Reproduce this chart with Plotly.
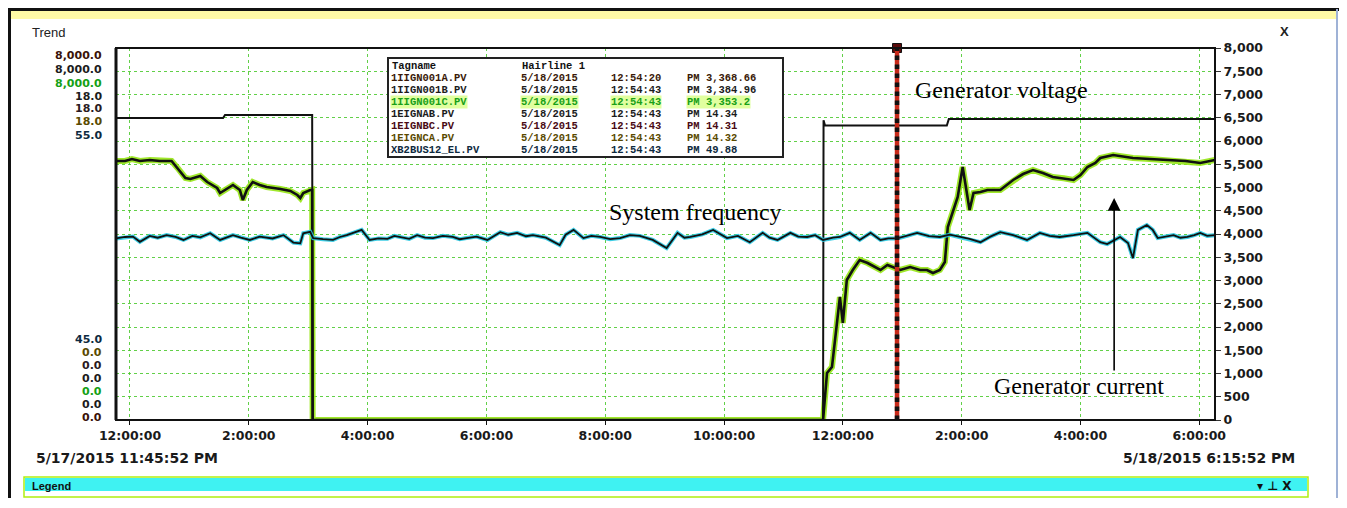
import plotly.graph_objects as go

# ---------------- data ----------------
# Generator current (A) - right axis 0..8000
curr_time = [
    "2015-05-17 23:45:52", "2015-05-17 23:55", "2015-05-18 00:02", "2015-05-18 00:10",
    "2015-05-18 00:20", "2015-05-18 00:30", "2015-05-18 00:42", "2015-05-18 00:48",
    "2015-05-18 00:56", "2015-05-18 01:01", "2015-05-18 01:11", "2015-05-18 01:18",
    "2015-05-18 01:28", "2015-05-18 01:31", "2015-05-18 01:38", "2015-05-18 01:44",
    "2015-05-18 01:51", "2015-05-18 01:54", "2015-05-18 01:58", "2015-05-18 02:04",
    "2015-05-18 02:11", "2015-05-18 02:18", "2015-05-18 02:32", "2015-05-18 02:42",
    "2015-05-18 02:49", "2015-05-18 02:52", "2015-05-18 02:55", "2015-05-18 03:02",
    "2015-05-18 03:04", "2015-05-18 03:04:30", "2015-05-18 11:40",
    "2015-05-18 11:44", "2015-05-18 11:49", "2015-05-18 11:54", "2015-05-18 11:57",
    "2015-05-18 12:00", "2015-05-18 12:04", "2015-05-18 12:10", "2015-05-18 12:17",
    "2015-05-18 12:25", "2015-05-18 12:33", "2015-05-18 12:38", "2015-05-18 12:45",
    "2015-05-18 12:51", "2015-05-18 12:58", "2015-05-18 13:08", "2015-05-18 13:18",
    "2015-05-18 13:25", "2015-05-18 13:31", "2015-05-18 13:38", "2015-05-18 13:43",
    "2015-05-18 13:46", "2015-05-18 13:51", "2015-05-18 13:56", "2015-05-18 14:01",
    "2015-05-18 14:05", "2015-05-18 14:08", "2015-05-18 14:12", "2015-05-18 14:19",
    "2015-05-18 14:26", "2015-05-18 14:39", "2015-05-18 14:52", "2015-05-18 15:02",
    "2015-05-18 15:12", "2015-05-18 15:22", "2015-05-18 15:32", "2015-05-18 15:43",
    "2015-05-18 15:53", "2015-05-18 16:00", "2015-05-18 16:07", "2015-05-18 16:15",
    "2015-05-18 16:20", "2015-05-18 16:33", "2015-05-18 16:45", "2015-05-18 16:53",
    "2015-05-18 17:10", "2015-05-18 17:28", "2015-05-18 17:46", "2015-05-18 18:01",
    "2015-05-18 18:15:52",
]
curr_amp = [
    5570, 5570, 5613, 5570, 5591, 5570, 5570, 5420,
    5205, 5183, 5248, 5118, 4989, 4882, 4968, 5054,
    4946, 4731, 4946, 5118, 5054, 5011, 4968, 4925,
    4839, 4774, 4882, 4946, 4946, 0, 0,
    1011, 1140, 2086, 2645, 2086, 3011, 3226, 3441,
    3376, 3290, 3226, 3333, 3290, 3226, 3290, 3226,
    3226, 3161, 3226, 3398, 4151, 4452, 4796, 5441,
    4946, 4516, 4882, 4903, 4946, 4946, 5161, 5290,
    5376, 5310, 5226, 5200, 5161, 5269, 5441, 5527,
    5634, 5699, 5656, 5634, 5613, 5591, 5570, 5527,
    5591,
]

# Generator voltage (kV) - pen scale 0..18
volt_time = [
    "2015-05-17 23:45:52", "2015-05-18 01:34", "2015-05-18 01:36", "2015-05-18 03:04",
    "2015-05-18 03:04:30", "2015-05-18 11:40", "2015-05-18 11:40:30", "2015-05-18 11:42",
    "2015-05-18 13:45", "2015-05-18 13:47", "2015-05-18 18:15:52",
]
volt_kv = [14.61, 14.61, 14.76, 14.76, 0.0, 0.0, 14.50, 14.25, 14.25, 14.56, 14.56]

# System frequency (Hz) - pen scale 45..55
freq_time = [
    "2015-05-17 23:45:52", "2015-05-17 23:55", "2015-05-18 00:03", "2015-05-18 00:10",
    "2015-05-18 00:20", "2015-05-18 00:28", "2015-05-18 00:37", "2015-05-18 00:46",
    "2015-05-18 00:54", "2015-05-18 01:03", "2015-05-18 01:11", "2015-05-18 01:21",
    "2015-05-18 01:31", "2015-05-18 01:44", "2015-05-18 01:52", "2015-05-18 02:01",
    "2015-05-18 02:11", "2015-05-18 02:24", "2015-05-18 02:35", "2015-05-18 02:45",
    "2015-05-18 02:52", "2015-05-18 02:55", "2015-05-18 03:02", "2015-05-18 03:05",
    "2015-05-18 03:15", "2015-05-18 03:25", "2015-05-18 03:32", "2015-05-18 03:39",
    "2015-05-18 03:54", "2015-05-18 04:02", "2015-05-18 04:11", "2015-05-18 04:20",
    "2015-05-18 04:27", "2015-05-18 04:33", "2015-05-18 04:42", "2015-05-18 04:50",
    "2015-05-18 04:58", "2015-05-18 05:06", "2015-05-18 05:16", "2015-05-18 05:26",
    "2015-05-18 05:33", "2015-05-18 05:40", "2015-05-18 05:50", "2015-05-18 06:01",
    "2015-05-18 06:14", "2015-05-18 06:22", "2015-05-18 06:31", "2015-05-18 06:40",
    "2015-05-18 06:47", "2015-05-18 07:00", "2015-05-18 07:14", "2015-05-18 07:20",
    "2015-05-18 07:28", "2015-05-18 07:38", "2015-05-18 07:46", "2015-05-18 07:55",
    "2015-05-18 08:05", "2015-05-18 08:15", "2015-05-18 08:25", "2015-05-18 08:35",
    "2015-05-18 08:48", "2015-05-18 09:02", "2015-05-18 09:13", "2015-05-18 09:20",
    "2015-05-18 09:26", "2015-05-18 09:38", "2015-05-18 09:49", "2015-05-18 10:03",
    "2015-05-18 10:14", "2015-05-18 10:26", "2015-05-18 10:39", "2015-05-18 10:46",
    "2015-05-18 10:54", "2015-05-18 11:07", "2015-05-18 11:15", "2015-05-18 11:24",
    "2015-05-18 11:32", "2015-05-18 11:40", "2015-05-18 11:50", "2015-05-18 11:57",
    "2015-05-18 12:07", "2015-05-18 12:17", "2015-05-18 12:28", "2015-05-18 12:38",
    "2015-05-18 12:46", "2015-05-18 12:55", "2015-05-18 13:05", "2015-05-18 13:15",
    "2015-05-18 13:27", "2015-05-18 13:38", "2015-05-18 13:48", "2015-05-18 13:58",
    "2015-05-18 14:08", "2015-05-18 14:19", "2015-05-18 14:29", "2015-05-18 14:39",
    "2015-05-18 14:52", "2015-05-18 15:06", "2015-05-18 15:19", "2015-05-18 15:29",
    "2015-05-18 15:39", "2015-05-18 15:53", "2015-05-18 16:07", "2015-05-18 16:20",
    "2015-05-18 16:27", "2015-05-18 16:40", "2015-05-18 16:48", "2015-05-18 16:53",
    "2015-05-18 16:58", "2015-05-18 17:07", "2015-05-18 17:13", "2015-05-18 17:18",
    "2015-05-18 17:26", "2015-05-18 17:34", "2015-05-18 17:41", "2015-05-18 17:48",
    "2015-05-18 17:55", "2015-05-18 18:01", "2015-05-18 18:08", "2015-05-18 18:15:52",
]
freq_hz = [
    49.88, 49.92, 49.93, 49.79, 49.95, 49.90, 49.97, 49.92,
    49.84, 49.95, 49.91, 50.02, 49.84, 49.97, 49.90, 49.84,
    49.93, 49.88, 49.97, 49.77, 49.75, 50.02, 50.06, 49.89,
    49.86, 49.84, 49.92, 49.97, 50.11, 49.84, 49.88, 49.87,
    49.95, 49.92, 49.87, 49.97, 49.90, 49.89, 49.95, 49.92,
    49.86, 49.89, 49.93, 49.84, 50.05, 49.98, 50.03, 49.94,
    49.97, 49.90, 49.70, 49.98, 50.11, 49.89, 49.95, 49.92,
    49.86, 49.89, 49.97, 49.95, 49.84, 49.62, 50.03, 49.90,
    49.92, 49.99, 50.11, 49.89, 49.95, 49.78, 50.03, 49.90,
    49.84, 50.03, 49.93, 49.92, 49.97, 49.84, 49.90, 49.92,
    50.03, 49.84, 50.03, 49.84, 49.88, 49.88, 49.95, 50.03,
    49.94, 49.92, 49.98, 49.92, 49.87, 49.78, 49.93, 50.05,
    49.97, 49.84, 50.03, 49.95, 49.92, 49.97, 50.03, 49.78,
    49.73, 49.92, 49.76, 49.35, 50.11, 50.24, 50.11, 49.89,
    49.93, 49.97, 49.90, 49.92, 49.97, 50.03, 49.95, 49.97,
]

hairline_time = "2015-05-18 12:54:43"
x_start = "2015-05-17 23:45:52"
x_end = "2015-05-18 18:15:52"

# pen scale labels on the left (max values, then min values)
pen_max_labels = ["8,000.0", "8,000.0", "8,000.0", "18.0", "18.0", "18.0", "55.0"]
pen_min_labels = ["45.0", "0.0", "0.0", "0.0", "0.0", "0.0", "0.0"]
pen_max_colors = ["#3a1208", "#1c1c1c", "#14a014", "#1c1c1c", "#2a1a22", "#5a4a00", "#0e2a40"]
pen_min_colors = ["#0e2a40", "#5a4a00", "#2a1a22", "#1c1c1c", "#14a014", "#1c1c1c", "#3a1208"]

# hairline value table
tbl_tags = ["1IIGN001A.PV", "1IIGN001B.PV", "1IIGN001C.PV", "1EIGNAB.PV",
            "1EIGNBC.PV", "1EIGNCA.PV", "XB2BUS12_EL.PV"]
tbl_dates = ["5/18/2015"] * 7
tbl_times = ["12:54:20", "12:54:43", "12:54:43", "12:54:43", "12:54:43", "12:54:43", "12:54:43"]
tbl_values = ["PM 3,368.66", "PM 3,384.96", "PM 3,353.2", "PM 14.34", "PM 14.31",
              "PM 14.32", "PM 49.88"]
tbl_colors = ["#3a1a08", "#1c1c1c", "#18a018", "#1c1c1c", "#4a0a14", "#5a4a00", "#0e2a40"]

# ---------------- layout helpers ----------------
# page pixel coordinates of the plot area (the page body has an 8px margin)
OFF = 8
L, R, T, B = 116, 1215, 48, 420
FIG_W, FIG_H = 1331, 490


def px(x):
    return (x - L) / (R - L)


def py(y):
    return (B - y) / (B - T)


TICKFONT = dict(family="DejaVu Sans", size=12.5, color="#1a1a1a", weight="bold")
GRID = "rgba(70,200,40,0.85)"

fig = go.Figure()

# current (thick, green/yellow halo)
fig.add_trace(go.Scatter(x=curr_time, y=curr_amp, mode="lines", yaxis="y",
                         line=dict(color="rgba(150,230,20,0.9)", width=6), hoverinfo="skip",
                         showlegend=False))
fig.add_trace(go.Scatter(x=curr_time, y=curr_amp, mode="lines", yaxis="y",
                         line=dict(color="#111111", width=2.6), name="Generator current",
                         showlegend=False))
# frequency (cyan halo)
fig.add_trace(go.Scatter(x=freq_time, y=freq_hz, mode="lines", yaxis="y3",
                         line=dict(color="rgba(40,200,225,0.9)", width=4), hoverinfo="skip",
                         showlegend=False))
fig.add_trace(go.Scatter(x=freq_time, y=freq_hz, mode="lines", yaxis="y3",
                         line=dict(color="#111111", width=1.8), name="System frequency",
                         showlegend=False))
# voltage
fig.add_trace(go.Scatter(x=volt_time, y=volt_kv, mode="lines", yaxis="y2",
                         line=dict(color="#111111", width=2), name="Generator voltage",
                         showlegend=False))
# hairline head marker
fig.add_trace(go.Scatter(x=[hairline_time], y=[8000], mode="markers", yaxis="y",
                         marker=dict(symbol="square", size=9, color="#5a0a0a",
                                     line=dict(color="#111", width=1)),
                         cliponaxis=False, showlegend=False, hoverinfo="skip"))

shapes = []
# hairline
shapes.append(dict(type="line", xref="x", yref="paper", x0=hairline_time, x1=hairline_time,
                   y0=0, y1=1, line=dict(color="#c82a1a", width=4.5)))
shapes.append(dict(type="line", xref="x", yref="paper", x0=hairline_time, x1=hairline_time,
                   y0=0, y1=1, line=dict(color="#111111", width=4.5, dash="dot")))
# plot frame
shapes.append(dict(type="rect", xref="paper", yref="paper", x0=0, x1=1, y0=0, y1=1,
                   line=dict(color="#111111", width=2)))
shapes.append(dict(type="line", xref="paper", yref="paper", x0=0, x1=0, y0=0, y1=1,
                   line=dict(color="#111111", width=3)))
# hairline table box
shapes.append(dict(type="rect", xref="paper", yref="paper", x0=px(388), x1=px(783),
                   y0=py(157), y1=py(58), fillcolor="white",
                   line=dict(color="#222222", width=2), layer="above"))
# window frame
shapes.append(dict(type="rect", xref="paper", yref="paper", x0=px(10), x1=px(1337),
                   y0=py(19), y1=py(9), fillcolor="rgba(255,240,0,0.35)", line=dict(width=0)))
shapes.append(dict(type="line", xref="paper", yref="paper", x0=px(8), x1=px(1339),
                   y0=py(9.5), y1=py(9.5), line=dict(color="#111111", width=3)))
shapes.append(dict(type="line", xref="paper", yref="paper", x0=px(9.5), x1=px(9.5),
                   y0=py(498), y1=py(9), line=dict(color="#111111", width=3)))
shapes.append(dict(type="line", xref="paper", yref="paper", x0=px(1337), x1=px(1337),
                   y0=py(498), y1=py(9), line=dict(color="#9fb2d6", width=2)))
# legend bar
shapes.append(dict(type="rect", xref="paper", yref="paper", x0=px(25), x1=px(1307),
                   y0=py(491), y1=py(478), fillcolor="#3ff2f2", line=dict(width=0)))
shapes.append(dict(type="rect", xref="paper", yref="paper", x0=px(24), x1=px(1308),
                   y0=py(497), y1=py(477), line=dict(color="#b0ee10", width=1.5)))

ann = []
# pen scale labels
max_y = [56, 70, 83, 96, 109, 121, 135]
min_y = [339, 352, 365, 378, 391, 404, 417]
for t, c, yy in zip(pen_max_labels, pen_max_colors, max_y):
    ann.append(dict(text=t, xref="paper", yref="paper", x=px(104), y=py(yy), xanchor="right",
                    yanchor="middle", showarrow=False,
                    font=dict(family="DejaVu Sans", size=11, color=c, weight="bold")))
for t, c, yy in zip(pen_min_labels, pen_min_colors, min_y):
    ann.append(dict(text=t, xref="paper", yref="paper", x=px(104), y=py(yy), xanchor="right",
                    yanchor="middle", showarrow=False,
                    font=dict(family="DejaVu Sans", size=11, color=c, weight="bold")))

# table
MONO = "Liberation Mono, Courier New, monospace"
TF = 10.5
ann.append(dict(text="Tagname", xref="paper", yref="paper", x=px(390), y=py(66),
                xanchor="left", yanchor="middle", showarrow=False,
                font=dict(family=MONO, size=TF, color="#111", weight="bold")))
ann.append(dict(text="Hairline 1", xref="paper", yref="paper", x=px(520), y=py(66),
                xanchor="left", yanchor="middle", showarrow=False,
                font=dict(family=MONO, size=TF, color="#111", weight="bold")))
row_y = [78, 90, 102, 114, 126, 138, 150]
for i in range(7):
    f = dict(family=MONO, size=TF, color=tbl_colors[i], weight="bold")
    for txt, xx in ((tbl_tags[i], 390), (tbl_dates[i], 520), (tbl_times[i], 610),
                    (tbl_values[i], 686)):
        ann.append(dict(text=txt, xref="paper", yref="paper", x=px(xx), y=py(row_y[i]),
                        xanchor="left", yanchor="middle", showarrow=False, font=f,
                        borderpad=0,
                        bgcolor="rgba(200,255,80,0.55)" if i == 2 else None))

# series captions
SERIF = dict(family="Liberation Serif, Times New Roman, serif", size=24, color="#000")
ann.append(dict(text="Generator voltage", x="2015-05-18 14:40", y=7097, xref="x", yref="y",
                showarrow=False, font=SERIF))
ann.append(dict(text="System frequency", x="2015-05-18 09:31", y=4473, xref="x", yref="y",
                showarrow=False, font=SERIF))
ann.append(dict(text="Generator current", x="2015-05-18 15:58", y=731, xref="x", yref="y",
                showarrow=False, font=SERIF))
ann.append(dict(text="", x="2015-05-18 16:34", y=4774, xref="x", yref="y",
                ax="2015-05-18 16:34", ay=1032, axref="x", ayref="y", showarrow=True,
                arrowhead=2, arrowsize=1.6, arrowwidth=1.6, arrowcolor="#000"))

# window texts
ann.append(dict(text="Trend", xref="paper", yref="paper", x=px(30), y=py(32), xanchor="left",
                yanchor="middle", showarrow=False,
                font=dict(family="Liberation Sans, Arial", size=13, color="#222")))
ann.append(dict(text="X", xref="paper", yref="paper", x=px(1284), y=py(31), xanchor="center",
                yanchor="middle", showarrow=False,
                font=dict(family="Liberation Sans, Arial", size=13, color="#222", weight="bold")))
ann.append(dict(text="5/17/2015 11:45:52 PM", xref="paper", yref="paper", x=px(34), y=py(458),
                xanchor="left", yanchor="middle", showarrow=False,
                font=dict(family="DejaVu Sans", size=14, color="#1a1a1a", weight="bold")))
ann.append(dict(text="5/18/2015 6:15:52 PM", xref="paper", yref="paper", x=px(1297), y=py(458),
                xanchor="right", yanchor="middle", showarrow=False,
                font=dict(family="DejaVu Sans", size=14, color="#1a1a1a", weight="bold")))
ann.append(dict(text="Legend", xref="paper", yref="paper", x=px(30), y=py(486), xanchor="left",
                yanchor="middle", showarrow=False,
                font=dict(family="Liberation Sans Narrow, Liberation Sans", size=11,
                          color="#111", weight="bold")))
ann.append(dict(text="▾ ⊥ X", xref="paper", yref="paper", x=px(1294), y=py(486),
                xanchor="right", yanchor="middle", showarrow=False,
                font=dict(family="DejaVu Sans", size=12, color="#111", weight="bold")))

fig.update_layout(
    width=FIG_W, height=FIG_H,
    margin=dict(l=L - OFF, r=FIG_W - (R - OFF), t=T - OFF, b=FIG_H - (B - OFF)),
    paper_bgcolor="white", plot_bgcolor="white",
    showlegend=False,
    xaxis=dict(type="date", range=[x_start, x_end], tick0="2015-05-18 00:00", dtick=7200000,
               tickformat="%-I:%M:%S", showgrid=True, gridcolor=GRID, griddash="dot",
               gridwidth=1, ticks="outside", ticklen=4, tickcolor="#111", tickfont=TICKFONT,
               showline=False, zeroline=False),
    yaxis=dict(side="right", range=[0, 8000], dtick=500, tickformat=",d", showgrid=True,
               gridcolor=GRID, griddash="dot", gridwidth=1, ticks="outside", ticklen=5,
               tickcolor="#333", tickfont=TICKFONT, zeroline=False, showline=False),
    yaxis2=dict(overlaying="y", range=[0, 18], visible=False),
    yaxis3=dict(overlaying="y", range=[45, 55], visible=False),
    shapes=shapes,
    annotations=ann,
)

fig.write_html("out.html")
